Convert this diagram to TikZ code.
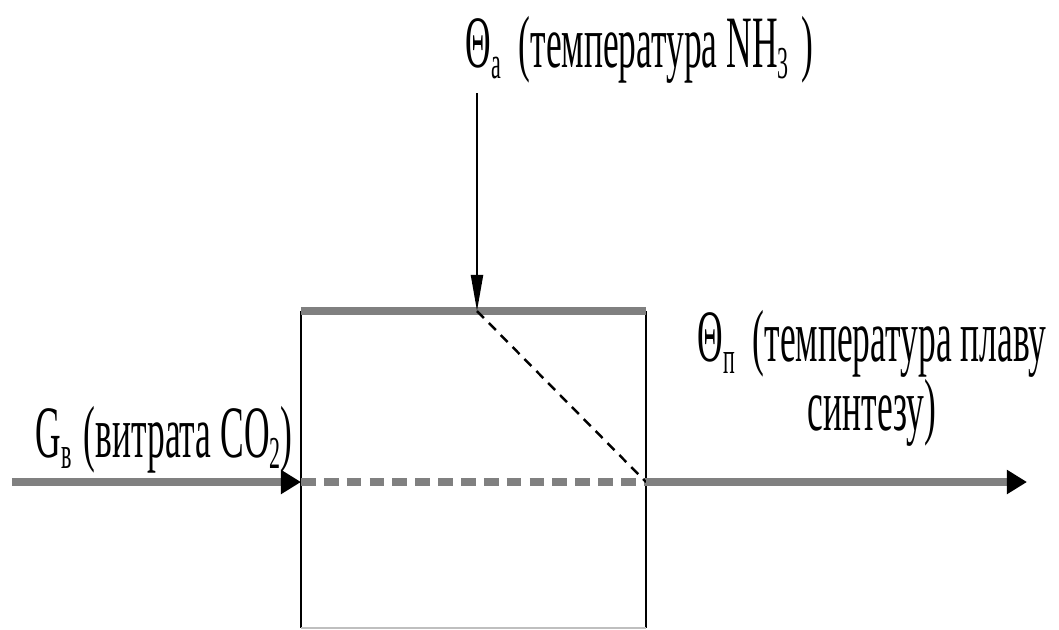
\documentclass[tikz,border=0pt]{standalone}
\usepackage{fontspec}
\setmainfont{Liberation Serif}[FakeStretch=0.48]
\usetikzlibrary{arrows.meta}
\definecolor{flowgray}{RGB}{128,128,128}
\newcommand{\lowsub}[1]{\raisebox{-0.35ex}{\fontsize{13}{13}\selectfont #1}}
\tikzset{
	flow/.style={flowgray, line width=2pt},
	flowtip/.style={-{Triangle[length=2mm, width=2.3mm, black]}},
	tag/.style={inner sep=0pt, font=\fontsize{21}{19.5}\selectfont}
}

\begin{document}
\begin{tikzpicture}[x=0.01cm, y=-0.01cm]
	\useasboundingbox (0,0) rectangle (1059,629);
	% block
	\coordinate (nw) at (301,311);
	\coordinate (ne) at (646,311);
	\coordinate (sw) at (301,628);
	\coordinate (se) at (646,628);
	\coordinate (mix) at (477,311);
	\coordinate (west) at (301,482);
	\coordinate (east) at (646,482);
	\draw[line width=0.6pt] (nw) -- (sw) (ne) -- (se);
	\draw[lightgray, line width=0.5pt] (sw) -- (se);
	\draw[flow] (nw) -- (ne);
	\draw[flow, dash pattern=on 4.2pt off 2.3pt] (west) -- (east);
	\draw[line width=0.7pt, dash pattern=on 2.8pt off 2pt] (mix) -- (east);
	% flows in and out
	\coordinate (src) at (12,482);
	\coordinate (sink) at (1027,482);
	\coordinate (feed) at (477,93);
	\draw[flow, flowtip] (src) -- (west);
	\draw[flow, flowtip] (east) -- (sink);
	\draw[line width=0.6pt, -{Triangle[length=3.6mm, width=1.2mm]}] (feed) -- (mix);
	% labels
	\node[tag, anchor=base west] (thetaa) at (465,67) {Θ\lowsub{a}\ \ (температура NH\lowsub{3}\,)};
	\node[tag, anchor=base west] (gco) at (35,457) {G\lowsub{в}\,(витрата CO\lowsub{2})};
	\node[tag, anchor=base, align=center] (thetap) at (872,430) {Θ\lowsub{п}\ \ (температура плаву\\синтезу)};
\end{tikzpicture}
\end{document}
